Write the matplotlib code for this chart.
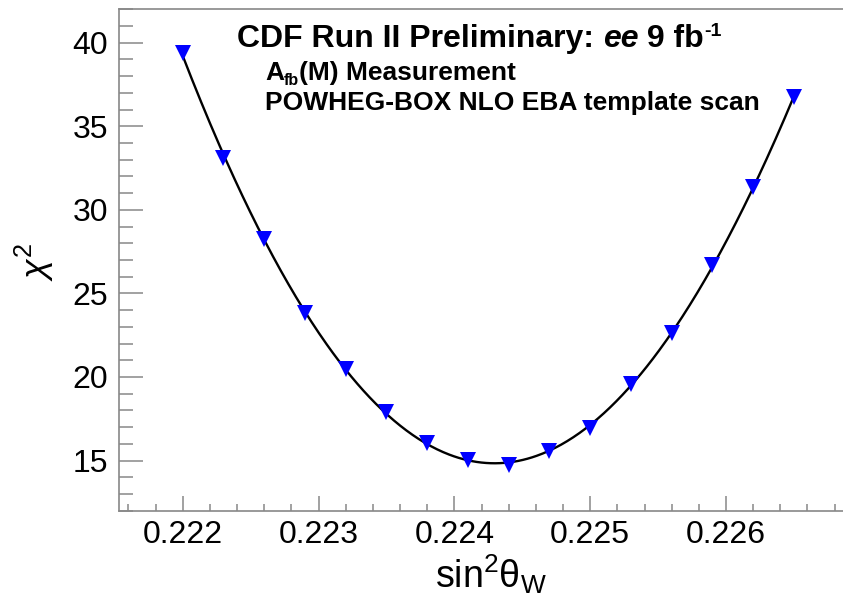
import numpy as np
import matplotlib
matplotlib.use("Agg")
import matplotlib.pyplot as plt
from matplotlib.ticker import MultipleLocator, FormatStrFormatter

# ---- data ----
sin2thetaw = [0.2220, 0.2223, 0.2226, 0.2229, 0.2232, 0.2235, 0.2238, 0.2241,
              0.2244, 0.2247, 0.2250, 0.2253, 0.2256, 0.2259, 0.2262, 0.2265]
chi2 = [39.36, 33.09, 28.25, 23.83, 20.49, 17.93, 16.06, 15.05,
        14.75, 15.58, 16.96, 19.60, 22.62, 26.70, 31.36, 36.73]
xticks_major = [0.222, 0.223, 0.224, 0.225, 0.226]
yticks_major = [15, 20, 25, 30, 35, 40]

plt.rcParams['mathtext.fontset'] = 'custom'
plt.rcParams['mathtext.rm'] = 'Liberation Sans'
plt.rcParams['mathtext.it'] = 'Liberation Sans:italic'
plt.rcParams['mathtext.bf'] = 'Liberation Sans:bold'
plt.rcParams['font.family'] = ['Liberation Sans', 'DejaVu Sans']

W, H = 843, 598
fig = plt.figure(figsize=(W / 100, H / 100), dpi=100)
left_px, top_px, bot_px, right_px = 119.3, 9.3, 510.7, 845.0
ax = fig.add_axes([left_px / W, 1 - bot_px / H, (right_px - left_px) / W, (bot_px - top_px) / H])

px_per_x = (726.0 - 182.7) / 0.004
x0 = 0.222 - (182.7 - left_px) / px_per_x
x1 = 0.226 + (right_px - 726.0) / px_per_x
ax.set_xlim(x0, x1)
ax.set_ylim(12, 42)

# fitted curve through the measured points
x = np.array(sin2thetaw)
y = np.array(chi2)
coef = np.polyfit(x - 0.2243, y, 4)
xf = np.linspace(x.min(), x.max(), 400)
ax.plot(xf, np.polyval(coef, xf - 0.2243), color='black', lw=1.7, zorder=2)
ax.plot(x, y, linestyle='none', marker='v', color=(0, 0, 1), markersize=11.5,
        markeredgewidth=0, zorder=3)

grey = '#888888'
for s in ['left', 'bottom', 'top']:
    ax.spines[s].set_color(grey)
    ax.spines[s].set_linewidth(1.2)
ax.spines['right'].set_visible(False)

ax.set_xticks(xticks_major)
ax.xaxis.set_minor_locator(MultipleLocator(0.0002))
ax.set_yticks(yticks_major)
ax.yaxis.set_minor_locator(MultipleLocator(1))
ax.xaxis.set_major_formatter(FormatStrFormatter('%.3f'))
ax.tick_params(axis='x', which='major', direction='in', length=11, width=1.1, color=grey,
               labelsize=23, pad=7)
ax.tick_params(axis='x', which='minor', direction='in', length=4.8, width=1.1, color=grey)
ax.tick_params(axis='y', which='major', direction='in', length=17.3, width=1.1, color=grey,
               labelsize=23, pad=8)
ax.tick_params(axis='y', which='minor', direction='in', length=10, width=1.1, color=grey)
ax.tick_params(top=False, right=False)

fig.text(491 / W, 1 - 588 / H, r'sin$^{2}$θ$_{\mathrm{W}}$', fontsize=27, ha='center',
         va='baseline')
fig.text(34 / W, 1 - 262 / H, r'$\chi^{2}$', fontsize=26, ha='center', va='center', rotation=90)

# sequential text placement
fig.canvas.draw()
renderer = fig.canvas.get_renderer()

def seq(pieces, x_px, base_px):
    xp = x_px
    for txt, kw, dy in pieces:
        t = fig.text(xp / W, 1 - (base_px - dy) / H, txt, va='baseline', ha='left', **kw)
        bb = t.get_window_extent(renderer=renderer)
        xp += bb.width

seq([("CDF Run II Preliminary: ", dict(fontsize=23, fontweight='bold'), 0),
     ("ee", dict(fontsize=23, fontweight='bold', fontstyle='italic'), 0),
     (" 9 fb", dict(fontsize=23, fontweight='bold'), 0),
     ("-1", dict(fontsize=14, fontweight='bold'), 11)], 237, 47)
seq([("A", dict(fontsize=19, fontweight='bold'), 0),
     ("fb", dict(fontsize=11.5, fontweight='bold'), -5),
     ("(M) Measurement", dict(fontsize=19, fontweight='bold'), 0)], 265, 80)
fig.text(265 / W, 1 - 110 / H, "POWHEG-BOX NLO EBA template scan", fontsize=19,
         fontweight='bold', va='baseline', ha='left')

fig.savefig('out.png', dpi=100)
